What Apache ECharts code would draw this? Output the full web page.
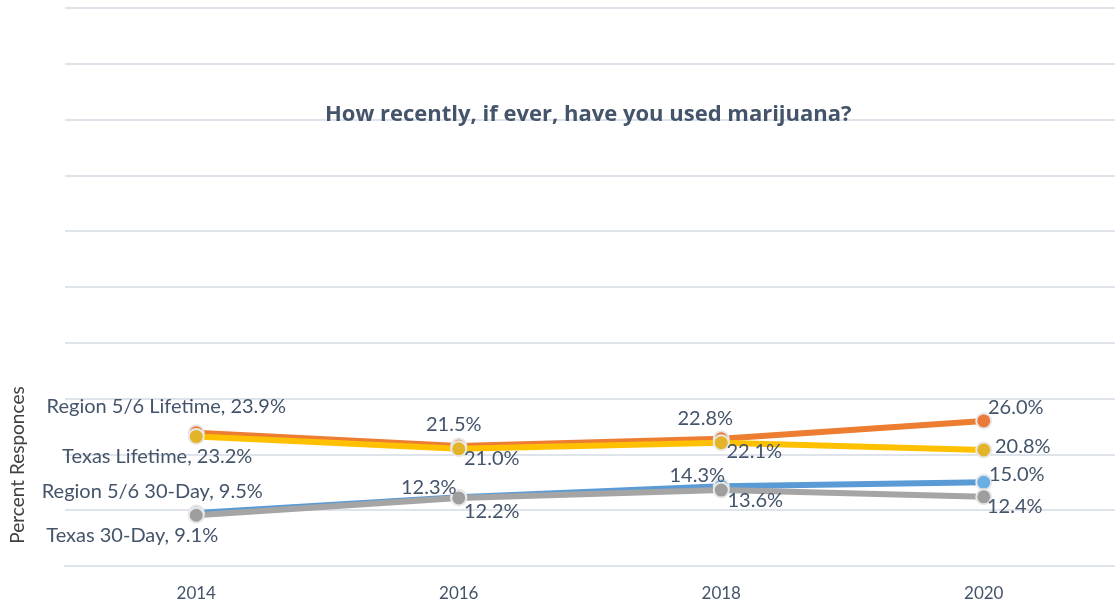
<!DOCTYPE html>
<html>
<head>
<meta charset="utf-8">
<script src="https://cdn.jsdelivr.net/npm/echarts@6/dist/echarts.min.js"></script>
<style>
  html, body { margin: 0; padding: 0; background: #fff; }
  #chart { width: 1115px; height: 607px; }
</style>
</head>
<body>
<div id="chart"></div>
<script>
var years = ['2014', '2016', '2018', '2020'];
var regionLifetime = [23.9, 21.5, 22.8, 26.0];
var texasLifetime = [23.2, 21.0, 22.1, 20.8];
var region30Day = [9.5, 12.3, 14.3, 15.0];
var texas30Day = [9.1, 12.2, 13.6, 12.4];

var textColor = '#44546A';
var gridColor = '#DFE3EA';

// label offsets per point
var offsets = {
  'Region 5/6 Lifetime': [[-30, -26], [-5, -21], [-16, -20], [32, -13]],
  'Texas Lifetime': [[-39, 20], [33, 10], [33, 9], [39, -3]],
  'Region 5/6 30-Day': [[-44, -21], [-30, -10], [-24, -11], [33, -8]],
  'Texas 30-Day': [[-64, 20], [33, 14], [34, 10], [31, 10]]
};

function makeSeries(name, values, color, markerColor) {
  return {
    name: name,
    type: 'line',
    data: values.map(function (v, i) {
      return {
        value: v,
        label: { offset: offsets[name][i] }
      };
    }),
    symbol: 'circle',
    symbolSize: 15,
    lineStyle: { color: color, width: 6 },
    itemStyle: { color: markerColor || color, borderColor: '#E8E8E8', borderWidth: 2 },
    label: {
      show: true,
      position: 'inside',
      color: textColor,
      fontFamily: 'Lato',
      fontSize: 20,
      formatter: function (p) {
        var s = p.value.toFixed(1) + '%';
        return p.dataIndex === 0 ? p.seriesName + ', ' + s : s;
      }
    },
    emphasis: { disabled: true },
    animation: false
  };
}

var chart = echarts.init(document.getElementById('chart'));
chart.setOption({
  backgroundColor: '#fff',
  title: {
    text: 'How recently, if ever, have you used marijuana?',
    left: 320,
    top: 99,
    textStyle: { color: textColor, fontFamily: 'Open Sans', fontWeight: 'bold', fontSize: 22 }
  },
  grid: { left: 65, right: -5, top: 8, bottom: 41 },
  xAxis: {
    type: 'category',
    data: years,
    boundaryGap: true,
    axisLine: { lineStyle: { color: gridColor, width: 2 } },
    axisTick: { show: false },
    axisLabel: { color: textColor, fontFamily: 'Lato', fontSize: 17, margin: 19 }
  },
  yAxis: {
    type: 'value',
    min: 0,
    max: 100,
    interval: 10,
    axisLabel: { show: false },
    axisLine: { show: false },
    axisTick: { show: false },
    splitLine: { lineStyle: { color: gridColor, width: 2 } }
  },
  graphic: [{
    type: 'text',
    x: 18,
    y: 465,
    rotation: Math.PI / 2,
    style: {
      text: 'Percent Responces',
      fill: '#404040',
      font: '19px Lato',
      align: 'center',
      verticalAlign: 'middle'
    }
  }],
  series: [
    makeSeries('Region 5/6 Lifetime', regionLifetime, '#ED7D31', '#E97A3A'),
    makeSeries('Texas Lifetime', texasLifetime, '#FFC000', '#E3B42A'),
    makeSeries('Region 5/6 30-Day', region30Day, '#5B9BD5', '#6AAEE3'),
    makeSeries('Texas 30-Day', texas30Day, '#A5A5A5', '#9E9E9E')
  ]
});
</script>
</body>
</html>
